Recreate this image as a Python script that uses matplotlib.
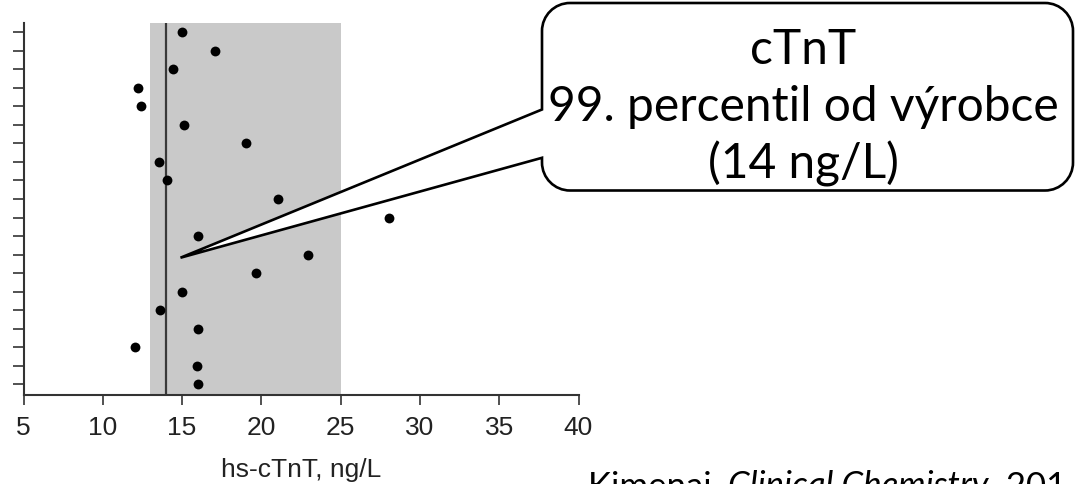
import matplotlib
matplotlib.use('Agg')
import matplotlib.pyplot as plt
from matplotlib.path import Path
from matplotlib.patches import PathPatch
from matplotlib.transforms import Affine2D

W, H = 1076, 485

# hs-cTnT per sample (ng/L), row 20 at the top down to row 1
rows = list(range(20, 0, -1))
ctnt = [15.0, 17.06, 14.43, 12.22, 12.43, 15.12, 19.05, 13.52, 14.03, 21.05,
        28.06, 16.02, 22.97, 19.64, 15.01, 13.63, 16.02, 12.01, 15.92, 16.02]

band = (13, 25)        # grey range
p99 = 14               # manufacturer 99th percentile
xticks = [5, 10, 15, 20, 25, 30, 35, 40]
box_lines = ['cTnT', '99. percentil od výrobce', '(14 ng/L)']

axis_font = ['Liberation Sans', 'DejaVu Sans']

fig = plt.figure(figsize=(W / 100, H / 100), dpi=100)
ax = fig.add_axes([23.5 / W, (H - 396) / H, 555 / W, 372 / H])

ax.axvspan(band[0], band[1], color='#c9c9c9', lw=0, zorder=0)
ax.axvline(p99, color='#3a3a3a', lw=1.6, zorder=1)
ax.scatter(ctnt, rows, s=50, color='black', zorder=3, linewidths=0)

ax.set_xlim(5, 40)
ax.set_ylim(0.42, 20.5)
ax.set_xticks(xticks)
ax.set_yticks(range(1, 21))
ax.set_yticklabels([])
for s in ['top', 'right']:
    ax.spines[s].set_visible(False)
for s in ['left', 'bottom']:
    ax.spines[s].set_color('#333333')
    ax.spines[s].set_linewidth(1.5)
ax.tick_params(axis='x', length=7.5, width=1.2, color='#333333', pad=7,
               labelsize=19, labelcolor='#222222')
ax.tick_params(axis='y', length=8, width=1.2, color='#333333')
for lab in ax.get_xticklabels():
    lab.set_fontfamily(axis_font)
ax.set_xlabel('hs-cTnT, ng/L', fontsize=19, family=axis_font,
              color='#222222', labelpad=13)
ax.patch.set_alpha(0)

# callout box, in pixel coords measured from the top-left
top = Affine2D().scale(1, -1).translate(0, H)
tx, ty = ax.transData.transform((14.9, 7.83))
tip = (tx, H - ty)
x0, y0, x1, y1, r = 542, 4, 1073, 191.5, 28
b0, b1 = 110.5, 158.8
k = 0.5523 * r
verts = [(x0 + r, y0), (x1 - r, y0),
         (x1 - r + k, y0), (x1, y0 + r - k), (x1, y0 + r),
         (x1, y1 - r),
         (x1, y1 - r + k), (x1 - r + k, y1), (x1 - r, y1),
         (x0 + r, y1),
         (x0 + r - k, y1), (x0, y1 - r + k), (x0, y1 - r),
         (x0, b1), tip, (x0, b0), (x0, y0 + r),
         (x0, y0 + r - k), (x0 + r - k, y0), (x0 + r, y0),
         (x0 + r, y0)]
codes = ([Path.MOVETO, Path.LINETO] + [Path.CURVE4] * 3 + [Path.LINETO]
         + [Path.CURVE4] * 3 + [Path.LINETO] + [Path.CURVE4] * 3
         + [Path.LINETO] * 4 + [Path.CURVE4] * 3 + [Path.CLOSEPOLY])
fig.add_artist(PathPatch(Path(verts, codes), facecolor='white', edgecolor='black',
                         lw=1.9, transform=top, zorder=5, joinstyle='miter'))

for txt, base in zip(box_lines, [64, 121, 179]):
    fig.text(803, base, txt, transform=top, ha='center', va='baseline',
             fontsize=34.5, family='Lato', color='black', zorder=6)

# citation, partly cut off at the bottom edge as in the source slide
parts = [('Kimenai, ', 'normal'), ('Clinical Chemistry', 'italic'), (', 201', 'normal')]
fig.canvas.draw()
rend = fig.canvas.get_renderer()
cx = 588
for txt, st in parts:
    t = fig.text(cx, 496, txt, transform=top, ha='left', va='baseline',
                 fontsize=25, family='Lato', style=st, color='black')
    cx += t.get_window_extent(rend).width

fig.savefig('out.png', dpi=100)
